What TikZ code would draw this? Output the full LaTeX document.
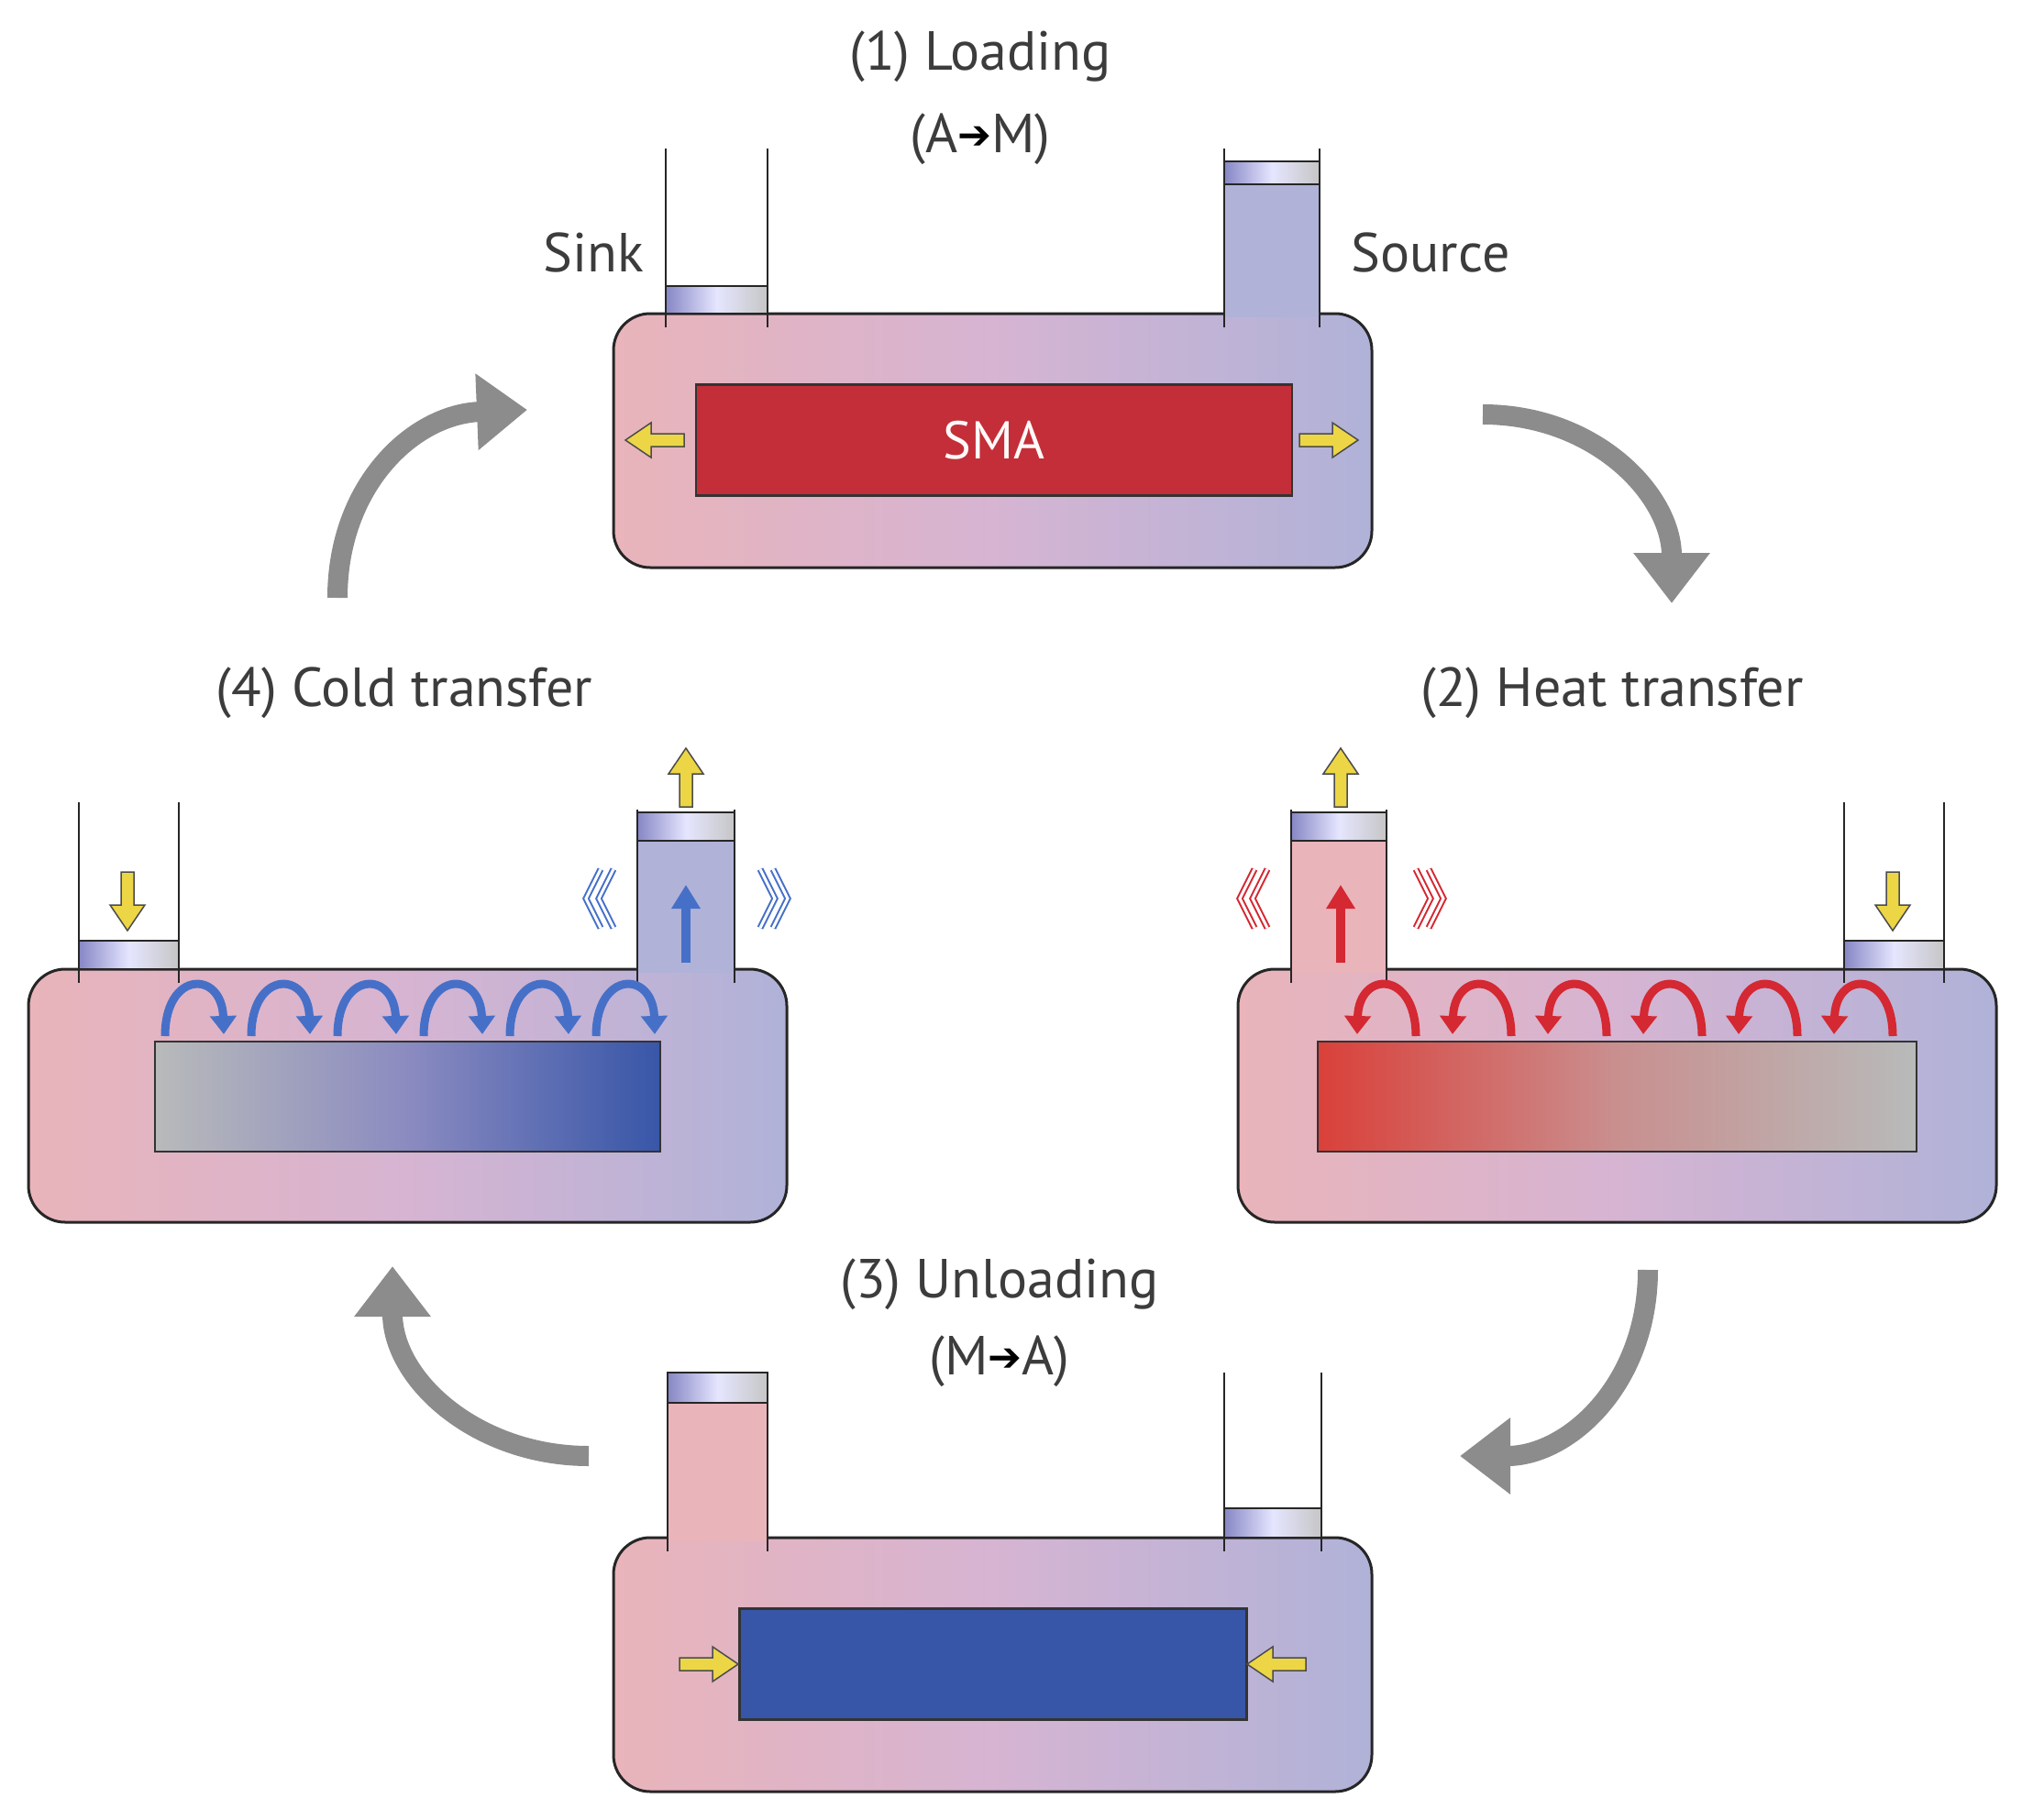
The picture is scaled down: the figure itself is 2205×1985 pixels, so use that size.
\documentclass[tikz,border=0pt]{standalone}
\usepackage{fontspec}
\setmainfont{PT Sans}
\newfontfamily\arrfont{DejaVu Sans}
\usetikzlibrary{arrows.meta}
\definecolor{pinkF}{RGB}{233,180,186}
\definecolor{midF}{RGB}{214,180,210}
\definecolor{lavF}{RGB}{176,178,216}
\definecolor{txt}{RGB}{60,60,60}
\definecolor{yel}{RGB}{236,214,70}
\definecolor{redA}{RGB}{212,40,50}
\definecolor{blueA}{RGB}{70,112,200}
\definecolor{grayA}{RGB}{140,140,140}
\definecolor{smaRed}{RGB}{196,46,56}
\definecolor{smaBlue}{RGB}{56,86,168}
\definecolor{smaGray}{RGB}{184,186,186}
\definecolor{hotRed}{RGB}{218,64,58}
\tikzset{
 box/.style={draw=black!85,line width=3pt,rounded corners=40pt,left color=pinkF,right color=lavF,middle color=midF},
 tubewall/.style={draw=black!85,line width=2.5pt},
 piston/.style={draw=black!85,line width=2pt,left color=blue!35!gray!70,right color=gray!45,middle color=blue!10},
 sma/.style={draw=black!80,line width=2.5pt},
 yarrow/.style={draw=black!70,fill=yel,line width=1.5pt,line join=miter},
 lab/.style={text=txt,font=\fontsize{60}{66}\selectfont,inner sep=0pt},
 cyc/.style={draw=grayA,line width=22pt,-{Triangle[length=55pt,width=80pt]}},
 chev/.style={line width=2pt,double distance=3pt},
 loopR/.style={draw=redA,line width=9pt,-{Triangle[length=20pt,width=28pt]}},
 loopB/.style={draw=blueA,line width=9pt,-{Triangle[length=20pt,width=28pt]}},
 inR/.style={draw=redA,line width=10pt,-{Triangle[length=26pt,width=30pt]}},
 inB/.style={draw=blueA,line width=10pt,-{Triangle[length=26pt,width=30pt]}},
}
\newcommand\yarr[2]{\draw[yarrow,shift={(#1)},rotate=#2] (-32,-7)--(4,-7)--(4,-19)--(32,0)--(4,19)--(4,7)--(-32,7)--cycle;}
\newcommand\bigarr{{\arrfont\fontsize{44}{50}\selectfont\raisebox{4pt}{\textcolor{black}{➔}}}}
\begin{document}
\begin{tikzpicture}[x=1pt,y=-1pt]
\useasboundingbox (0,0) rectangle (2205,1985);
% ---------- Panel 1 ----------
\path[box] (669,342) rectangle (1496,619);
\fill[lavF] (1335,201) rectangle (1439,346);
\draw[tubewall] (726,162) -- (726,357) (837,162) -- (837,357);
\draw[tubewall] (1335,162) -- (1335,357) (1439,162) -- (1439,357);
\path[piston] (726,312) rectangle (837,342);
\path[piston] (1335,176) rectangle (1439,201);
\node[sma,fill=smaRed,minimum width=650pt,minimum height=121pt,inner sep=0pt,text=white!92!pink,font=\fontsize{58}{60}\selectfont] (sma1) at (1084,480) {SMA};
\yarr{714,480}{180}
\yarr{1449,480}{0}
\node[lab] (t1a) at (1069,62) {(1) Loading};
\node[lab] (t1b) at (1069,152) {(A\bigarr M)};
\node[lab] (sink) at (647,276) {Sink};
\node[lab] (src) at (1560,276) {Source};
% ---------- Panel 2 ----------
\path[box] (1350,1057) rectangle (2177,1333);
\fill[pinkF] (1408,917) rectangle (1512,1061);
\draw[tubewall] (1408,883) -- (1408,1072) (1512,883) -- (1512,1072);
\draw[tubewall] (2011,875) -- (2011,1072) (2120,875) -- (2120,1072);
\path[piston] (1408,886) rectangle (1512,917);
\path[piston] (2011,1026) rectangle (2120,1057);
\path[sma,left color=hotRed,right color=smaGray,middle color=red!35!gray!65] (1437,1136) rectangle (2090,1256);
\yarr{1462,848}{90}
\yarr{2064,983}{270}
\coordinate (r2a) at (1462,1050); \coordinate (r2b) at (1462,965);
\draw[inR] (r2a) -- (r2b);
\foreach \x in {1480,1584,1688,1792,1896,2000}{
 \draw[loopR] (\x+64,1130) .. controls (\x+64,1058) and (\x+2,1058) .. (\x,1128);
}
\foreach \s in {0,14}{
 \draw[redA,chev,double=white] (1368+\s,948) -- (1352+\s,980) -- (1368+\s,1012);
 \draw[redA,chev,double=white] (1558-\s,948) -- (1574-\s,980) -- (1558-\s,1012);
}
\node[lab] (t2) at (1758,756) {(2) Heat transfer};
% ---------- Panel 4 ----------
\path[box] (31,1057) rectangle (858,1333);
\fill[lavF] (695,917) rectangle (801,1061);
\draw[tubewall] (86,875) -- (86,1072) (195,875) -- (195,1072);
\draw[tubewall] (695,883) -- (695,1072) (801,883) -- (801,1072);
\path[piston] (86,1026) rectangle (195,1057);
\path[piston] (695,886) rectangle (801,917);
\path[sma,left color=smaGray,right color=smaBlue,middle color=blue!30!gray!70] (169,1136) rectangle (720,1256);
\yarr{748,848}{90}
\yarr{139,983}{270}
\coordinate (b4a) at (748,1050); \coordinate (b4b) at (748,965);
\draw[inB] (b4a) -- (b4b);
\foreach \x in {180,274,368,462,556,650}{
 \draw[loopB] (\x,1130) .. controls (\x,1058) and (\x+62,1058) .. (\x+64,1128);
}
\foreach \s in {0,14}{
 \draw[blueA,chev,double=white] (655+\s,948) -- (639+\s,980) -- (655+\s,1012);
 \draw[blueA,chev,double=white] (843-\s,948) -- (859-\s,980) -- (843-\s,1012);
}
\node[lab] (t4) at (441,756) {(4) Cold transfer};
% ---------- Panel 3 ----------
\path[box] (669,1677) rectangle (1496,1954);
\fill[pinkF] (728,1530) rectangle (837,1681);
\draw[tubewall] (728,1497) -- (728,1692) (837,1497) -- (837,1692);
\draw[tubewall] (1335,1497) -- (1335,1692) (1441,1497) -- (1441,1692);
\path[piston] (728,1497) rectangle (837,1530);
\path[piston] (1335,1645) rectangle (1441,1677);
\node[sma,fill=smaBlue,minimum width=553pt,minimum height=121pt,inner sep=0pt] (sma3) at (1083,1815) {};
\yarr{773,1815}{0}
\yarr{1392,1815}{180}
\node[lab] (t3a) at (1090,1401) {(3) Unloading};
\node[lab] (t3b) at (1090,1485) {(M\bigarr A)};
% ---------- cycle arrows ----------
\coordinate (c1a) at (368,652); \coordinate (c1b) at (575,447);
\coordinate (c2a) at (1617,452); \coordinate (c2b) at (1823,658);
\coordinate (c3a) at (1797,1385); \coordinate (c3b) at (1592,1588);
\coordinate (c4a) at (642,1588); \coordinate (c4b) at (428,1381);
\draw[cyc] (c1a) .. controls (368,530) and (450,452) .. (c1b);
\draw[cyc] (c2a) .. controls (1740,452) and (1823,540) .. (c2b);
\draw[cyc] (c3a) .. controls (1797,1510) and (1710,1588) .. (c3b);
\draw[cyc] (c4a) .. controls (520,1588) and (428,1505) .. (c4b);
\end{tikzpicture}
\end{document}
